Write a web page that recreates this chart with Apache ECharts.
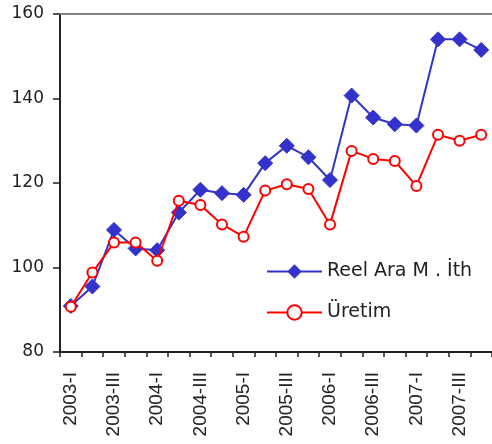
<!DOCTYPE html>
<html><head><meta charset="utf-8">
<script src="https://cdn.jsdelivr.net/npm/echarts@6/dist/echarts.min.js"></script>
<style>html,body{margin:0;padding:0;background:#fff}#c{width:492px;height:444px}</style>
</head><body><div id="c"></div>
<script>
const categories = ['2003-I','2003-II','2003-III','2003-IV','2004-I','2004-II','2004-III','2004-IV','2005-I','2005-II','2005-III','2005-IV','2006-I','2006-II','2006-III','2006-IV','2007-I','2007-II','2007-III','2007-IV'];
const reelAraMIth = [90.9,95.5,108.9,104.5,104.1,113.0,118.4,117.6,117.2,124.7,128.8,126.1,120.7,140.7,135.5,133.9,133.6,154.0,154.0,151.5];
const uretim = [90.7,98.8,105.9,105.9,101.6,115.8,114.8,110.2,107.3,118.2,119.7,118.6,110.2,127.6,125.7,125.2,119.3,131.4,130.0,131.4];
const yTicks = {min:80, max:160, interval:20};

const chart = echarts.init(document.getElementById('c'), null, {renderer:'canvas'});
chart.setOption({
  animation:false,
  backgroundColor:'#fff',
  grid:{left:60, right:-4, top:14, bottom:92, containLabel:false},
  legend:{
    orient:'vertical', left:261, top:257, itemWidth:55, itemHeight:18, itemGap:22,
    textStyle:{fontFamily:'DejaVu Sans', fontSize:19, color:'#222'},
    data:['Reel Ara M . İth','Üretim']
  },
  xAxis:[{
    type:'category', data:categories, boundaryGap:true, position:'bottom',
    axisLine:{lineStyle:{color:'#222', width:2}},
    axisTick:{show:true, interval:0, length:5, lineStyle:{color:'#222', width:1.5}},
    axisLabel:{interval:1, rotate:90, margin:20, fontFamily:'Liberation Sans', fontSize:19, color:'#222'},
    splitLine:{show:false}
  },{
    type:'category', data:categories, position:'top',
    axisLine:{show:true, lineStyle:{color:'#808080', width:2}},
    axisTick:{show:false}, axisLabel:{show:false}, splitLine:{show:false}
  }],
  yAxis:{
    type:'value', min:yTicks.min, max:yTicks.max, interval:yTicks.interval,
    axisLine:{show:true, lineStyle:{color:'#222', width:2}},
    axisTick:{show:true, length:7, lineStyle:{color:'#222', width:1.5}},
    axisLabel:{margin:16, fontFamily:'DejaVu Sans', fontSize:17, color:'#222'},
    splitLine:{show:false}
  },
  series:[{
    name:'Reel Ara M . İth', type:'line', data:reelAraMIth,
    symbol:'diamond', symbolSize:15, showAllSymbol:true,
    lineStyle:{color:'#3333CC', width:2},
    itemStyle:{color:'#3333CC', borderColor:'#3333CC'},
    z:2
  },{
    name:'Üretim', type:'line', data:uretim,
    symbol:'circle', symbolSize:10, showAllSymbol:true,
    lineStyle:{color:'#FF0000', width:2},
    itemStyle:{color:'#fff', borderColor:'#FF0000', borderWidth:2},
    z:3
  }]
});
</script></body></html>
